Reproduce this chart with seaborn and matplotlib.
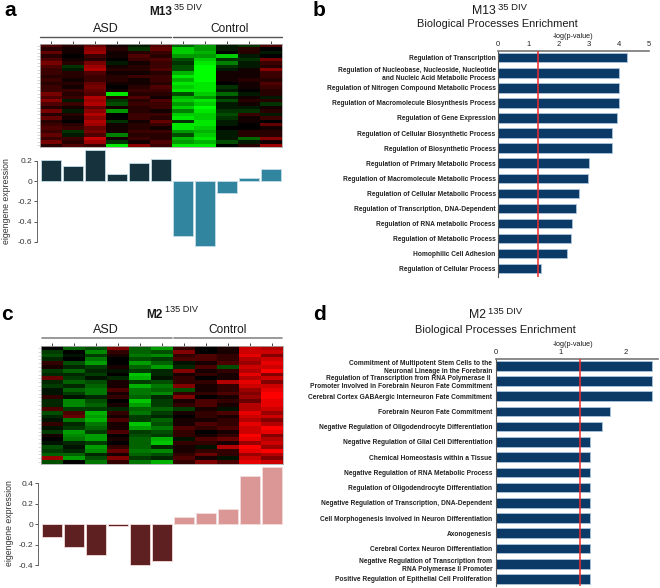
import pandas as pd
import matplotlib
matplotlib.use('Agg')
import matplotlib.pyplot as plt
import seaborn as sns
from matplotlib.colors import LinearSegmentedColormap, TwoSlopeNorm

W, H = 660, 588

samples = ['A1', 'A2', 'A3', 'A4', 'A5', 'A6', 'C1', 'C2', 'C3', 'C4', 'C5']

# heatmap a, read by eye (+ red, - green)
m13_heat = [
    [4, 2, 5, 1, -1, 4, -4, -6, -1, -2, 4],
    [2, 1, 7, 2, -2, 5, -8, -6, -1, 2, 0],
    [5, 1, 8, 1, 2, 3, -8, -7, 0, 2, -1],
    [2, 0, 3, 1, 4, 2, -6, -6, -8, -1, 0],
    [4, 1, 2, 0, 3, 4, -3, -8, -2, -2, 6],
    [6, 2, 6, -1, 1, 3, -2, -9, -5, -1, 3],
    [4, -2, 8, 1, 2, 3, -3, -10, -2, -1, 2],
    [3, -1, 9, 2, 2, 4, -3, -10, -1, 1, 7],
    [3, 2, 4, 1, 1, 2, -7, -10, 1, 1, 3],
    [2, 2, 3, 2, 3, 3, -9, -10, 1, 1, 3],
    [3, 1, 3, 2, 1, 3, -7, -10, 1, 2, 2],
    [2, 2, 5, 1, 1, 2, -9, -9, 0, 1, 4],
    [3, 1, 6, 0, 2, 4, -8, -9, -2, 1, 3],
    [3, 3, 5, 1, 3, 3, -9, -9, -1, 0, 2],
    [6, 2, 4, -9, 2, 2, -3, -8, -4, -1, 2],
    [4, 3, 9, 2, 4, 1, -7, -6, -1, 1, -1],
    [7, -1, 8, -2, 2, 4, -8, -9, -3, 2, 2],
    [4, 3, 9, -3, 3, 3, -6, -8, -1, 1, -2],
    [2, 1, 5, 1, 2, 3, -8, -10, -1, -1, 1],
    [6, -1, 7, -6, 2, 1, -5, -9, -2, -2, 2],
    [2, 2, 9, 0, 3, 3, -8, -8, -3, 3, -1],
    [5, 1, 7, 0, 3, 2, -9, -8, -2, 1, 3],
    [2, 0, 9, -2, 1, 5, -2, -9, -1, 1, 0],
    [3, 2, 8, 1, 2, 3, -9, -9, -1, 0, 5],
    [4, 3, 5, 1, 2, 1, -9, -8, 0, 0, 1],
    [3, -2, 6, 1, 3, 3, -6, -7, -1, 2, 2],
    [5, -1, 4, -5, 2, 2, -3, -8, -1, 2, 2],
    [3, 3, 10, 1, 3, 2, -7, -9, -1, -4, 7],
    [6, 2, 8, -2, 1, 4, -6, -7, -3, -1, 1],
    [2, 4, 3, -9, 7, 3, -9, -9, 0, 2, 8],
]

# heatmap c, read by eye
m2_heat = [
    [0, -5, -4, 5, -5, -8, 2, 0, 1, 8, 7],
    [-3, 0, -7, 2, -5, -4, 5, 0, 1, 8, 8],
    [-4, -1, -3, 1, -6, -7, 2, 3, 2, 9, 5],
    [-2, 0, -6, 0, -4, -3, 3, 3, 2, 7, 8],
    [2, -4, -8, 0, -8, -5, -1, 1, 3, 6, 9],
    [1, -2, -3, 1, -5, -8, -2, 3, -4, 8, 8],
    [-3, -5, -2, -1, -3, -2, 5, 1, 2, 7, 10],
    [-2, -2, -3, 0, -10, -2, 1, 2, 1, 9, 5],
    [4, -3, -1, -2, -9, -1, 2, 0, 1, 7, 8],
    [-2, -5, -4, 1, -3, -4, 2, 2, 7, 9, 5],
    [-3, -2, -5, 1, -9, -6, 5, 1, 2, 8, 8],
    [-1, -5, -6, 3, -6, -5, -4, 1, 2, 6, 9],
    [-1, -3, -6, 1, -6, -7, 2, 2, 3, 5, 10],
    [2, -1, -2, 2, -5, -2, 5, 0, 1, 6, 10],
    [-2, -7, -4, 0, -10, -3, 1, 3, 2, 4, 9],
    [-2, -7, -5, 1, -8, -3, 2, 3, 1, 7, 9],
    [3, -3, -3, -2, -5, -5, -3, 1, -1, 7, 8],
    [-4, 3, -9, 2, -6, -3, 1, 2, 3, 9, 6],
    [-2, 4, -8, 1, -3, -2, 0, 2, 1, 8, 8],
    [-1, -6, -9, 3, -3, -5, 1, 1, 2, 7, 5],
    [2, -2, -6, 1, -10, -4, 1, 3, 2, 9, 7],
    [-1, -3, -5, 1, -8, -6, 3, 2, 3, 8, 10],
    [-3, -8, -3, 3, -3, -4, 2, 0, 1, 8, 9],
    [1, -7, -8, 0, -4, -3, 2, 1, 2, 10, 5],
    [0, -6, -8, 1, -5, -9, -1, 3, 4, 9, 7],
    [-1, -2, -3, 0, -5, -10, 2, 2, 1, 6, 8],
    [-4, -1, -8, 2, -5, -2, 1, -1, 7, 10, 6],
    [-3, -2, -7, 4, -6, -7, 1, 2, 2, 9, 10],
    [-5, -5, -2, 1, -5, -4, 2, 4, 2, 6, 7],
    [6, -8, -4, 5, -3, -2, 3, 1, -1, 8, 5],
    [-4, 0, -6, 2, -6, -9, 2, 5, 3, 9, 8],
]

m13_eigen = [0.21, 0.15, 0.31, 0.07, 0.18, 0.22, -0.54, -0.64, -0.12, 0.03, 0.12]
m2_eigen = [-0.12, -0.22, -0.295, -0.02, -0.40, -0.36, 0.07, 0.105, 0.15, 0.47, 0.56]

m13_terms = ['Regulation of Transcription',
             'Regulation of Nucleobase, Nucleoside, Nucleotide\nand Nucleic Acid Metabolic Process',
             'Regulation of Nitrogen Compound Metabolic Process',
             'Regulation of Macromolecule Biosynthesis Process',
             'Regulation of Gene Expression',
             'Regulation of Cellular Biosynthetic Process',
             'Regulation of Biosynthetic Process',
             'Regulation of Primary Metabolic Process',
             'Regulation of Macromolecule Metabolic Process',
             'Regulation of Cellular Metabolic Process',
             'Regulation of Transcription, DNA-Dependent',
             'Regulation of RNA metabolic Process',
             'Regulation of Metabolic Process',
             'Homophilic Cell Adhesion',
             'Regulation of Cellular Process']
m13_logp = [4.27, 4.0, 4.0, 4.0, 3.94, 3.75, 3.75, 3.01, 2.97, 2.68, 2.57, 2.45, 2.40, 2.26, 1.41]

m2_terms = ['Commitment of Multipotent Stem Cells to the\nNeuronal Lineage in the Forebrain',
            'Regulation of Transcription from RNA Polymerase II \nPromoter Involved in Forebrain Neuron Fate Commitment',
            'Cerebral Cortex GABAergic Interneuron Fate Commitment',
            'Forebrain Neuron Fate Commitment',
            'Negative Regulation of Oligodendrocyte Differentiation',
            'Negative Regulation of Glial Cell Differentiation',
            'Chemical Homeostasis within a Tissue',
            'Negative Regulation of RNA Metabolic Process',
            'Regulation of Oligodendrocyte Differentiation',
            'Negative Regulation of Transcription, DNA-Dependent',
            'Cell Morphogenesis Involved in Neuron Differentiation',
            'Axonogenesis',
            'Cerebral Cortex Neuron Differentiation',
            'Negative Regulation of Transcription from\nRNA Polymerase II Promoter',
            'Positive Regulation of Epithelial Cell Proliferation']
m2_logp = [2.41, 2.41, 2.41, 1.76, 1.64, 1.455, 1.455, 1.455, 1.455, 1.455, 1.455, 1.455, 1.455, 1.455, 1.455]

sns.set_theme(style='white')
plt.rcParams['font.family'] = ['Liberation Sans', 'DejaVu Sans']

fig = plt.figure(figsize=(W / 100, H / 100), dpi=100)
red_green = LinearSegmentedColormap.from_list('rg', ['#00ff00', '#000000', '#ff0000'])


def box(x0, y0, x1, y1):
    # pixel box (y down) -> axes
    return fig.add_axes([x0 / W, 1 - y1 / H, (x1 - x0) / W, (y1 - y0) / H])


def put(x, y, s, **kw):
    kw.setdefault('ha', 'center')
    kw.setdefault('va', 'center')
    kw.setdefault('color', '#1a1a1a')
    fig.text(x / W, 1 - y / H, s, **kw)


def hline(x0, x1, y, color='#555555', lw=1.0):
    fig.add_artist(plt.Line2D([x0 / W, x1 / W], [1 - y / H, 1 - y / H], color=color, lw=lw))


def plot_heat(data, pos, green_max, red_max):
    ax = box(*pos)
    sns.heatmap(pd.DataFrame(data, columns=samples), ax=ax, cmap=red_green, vmin=-10, vmax=10,
                cbar=False, xticklabels=False, yticklabels=False)
    ax.collections[0].set_norm(TwoSlopeNorm(0, -green_max, red_max))
    ax.xaxis.tick_top()
    ax.set_xticks([i + 0.5 for i in range(len(samples))])
    ax.set_yticks([i + 0.5 for i in range(len(data))])
    ax.tick_params(axis='x', top=True, bottom=False, length=2, width=0.6, color='#222222', pad=0)
    ax.tick_params(axis='y', left=True, length=2, width=0.4, color='#bbbbbb')
    ax.set_xticklabels([])
    ax.set_yticklabels([])
    ax.set_xlabel('')
    ax.set_ylabel('')
    for s in ax.spines.values():
        s.set_visible(True)
        s.set_color('#aaaaaa')
        s.set_linewidth(0.6)


def plot_eigen(values, pos, ylim, ticks, bounds, dark, light, edge, label_x, label_y):
    ax = box(*pos)
    df = pd.DataFrame({'sample': samples, 'value': values})
    colors = {s: (dark if i < 6 else light) for i, s in enumerate(samples)}
    sns.barplot(data=df, x='sample', y='value', hue='sample', palette=colors, saturation=1,
                legend=False, width=0.9, edgecolor=edge, linewidth=0.6, ax=ax)
    sns.despine(ax=ax, bottom=True)
    # set_position resets the ticks, so it has to come before the tick styling
    ax.spines['left'].set_position(('outward', 2))
    ax.spines['left'].set_color('#666666')
    ax.spines['left'].set_linewidth(0.7)
    ax.set_xlim(-0.5, 10.5)
    ax.set_ylim(*ylim)
    ax.set_yticks(ticks)
    ax.set_yticklabels(['%g' % t for t in ticks], fontsize=6, color='#333333')
    ax.tick_params(axis='y', left=True, length=2, width=0.7, color='#555555', pad=1.5)
    ax.spines['left'].set_bounds(*bounds)
    ax.set_xticks([])
    ax.set_xlabel('')
    ax.set_ylabel('')
    ax.patch.set_alpha(0)
    put(label_x, label_y, 'eigengene expression', rotation=90, fontsize=6.3, color='#333333')


def plot_enrich(terms, logp, pos, xlim, ylim, major, minor, pad):
    ax = box(*pos)
    df = pd.DataFrame({'term': terms, 'logp': logp})
    sns.barplot(data=df, y='term', x='logp', color='#0c3a66', saturation=1, width=0.63,
                edgecolor='#a9c4de', linewidth=0.6, ax=ax)
    ax.axvline(1.3, color='#ee2a2a', lw=1.1, zorder=5)
    ax.set_xlim(*xlim)
    ax.set_ylim(*ylim)
    ax.xaxis.tick_top()
    ax.set_xticks(major)
    ax.set_xticks(minor, minor=True)
    ax.set_xticklabels(['%d' % m for m in major], fontsize=5.5, color='#222222')
    ax.tick_params(axis='x', which='both', top=True, bottom=False, length=2, width=0.6, pad=0.5, color='#444444')
    ax.tick_params(axis='y', left=False, length=0, pad=pad)
    ax.set_yticks(range(len(terms)))
    ax.set_yticklabels(terms, fontsize=4.75, fontweight='bold', color='#222222', linespacing=1.25)
    ax.set_xlabel('')
    ax.set_ylabel('')
    sns.despine(ax=ax, top=False, right=True, bottom=True)
    ax.spines['top'].set_color('#777777')
    ax.spines['top'].set_linewidth(1.2)
    ax.spines['left'].set_color('#555555')
    ax.spines['left'].set_linewidth(0.8)


# a
plot_heat(m13_heat, (40, 44, 282, 147), 10, 13)
plot_eigen(m13_eigen, (40, 148, 282, 247), (-0.65, 0.325), [0.2, 0, -0.2, -0.4, -0.6], (-0.6, 0.2),
           '#16333d', '#31859f', '#c3dde8', 7, 201)
hline(40, 171, 37)
hline(173, 282, 37)
put(106, 29, 'ASD', fontsize=9)
put(230, 29, 'Control', fontsize=8.6)
put(10, 11, 'a', fontsize=15, fontweight='bold', color='black')
put(149, 12, 'M13', ha='left', fontsize=8.6, fontweight='bold')
put(174, 8, '35 DIV', ha='left', fontsize=6.6)

# b
plot_enrich(m13_terms, m13_logp, (498.3, 51, 649.3, 277), (0, 5), (14.55, -0.445),
            [0, 1, 2, 3, 4, 5], [0.5, 1.5, 2.5, 3.5, 4.5], 1.9)
put(573, 37, '-log(p-value)', fontsize=5.2)
put(319, 10, 'b', fontsize=15, fontweight='bold', color='black')
put(472, 11, 'M13', ha='left', fontsize=8.8)
put(497.5, 8, '35 DIV', ha='left', fontsize=6.8)
put(497.5, 24, 'Biological Processes Enrichment', fontsize=7.9)

# c
plot_heat(m2_heat, (41, 346, 283, 464), 13, 10)
plot_eigen(m2_eigen, (41, 465, 283, 566), (-0.405, 0.575), [0.4, 0.2, 0, -0.2, -0.4], (-0.4, 0.4),
           '#5e2020', '#da9796', '#f3dcdc', 10, 523)
hline(41.5, 172, 337.7, color='#888888', lw=1.2)
hline(174, 282, 337.7, color='#888888', lw=1.2)
put(106, 330, 'ASD', fontsize=9)
put(228, 330, 'Control', fontsize=8.6)
put(7, 315, 'c', fontsize=15, fontweight='bold', color='black')
put(146, 315, 'M2', ha='left', fontsize=8.6, fontweight='bold')
put(165, 310, '135 DIV', ha='left', fontsize=6.6)

# d
plot_enrich(m2_terms, m2_logp, (496, 359, 658, 586), (0, 2.49), (14.46, -0.44),
            [0, 1, 2], [0.5, 1.5, 2.5], 2.7)
put(573, 345, '-log(p-value)', fontsize=5.2)
put(319, 314, 'd', fontsize=15, fontweight='bold', color='black')
put(469, 315, 'M2', ha='left', fontsize=8.8)
put(488, 311, '135 DIV', ha='left', fontsize=6.8)
put(495, 330, 'Biological Processes Enrichment', fontsize=7.9)

fig.savefig('out.png', dpi=100)
